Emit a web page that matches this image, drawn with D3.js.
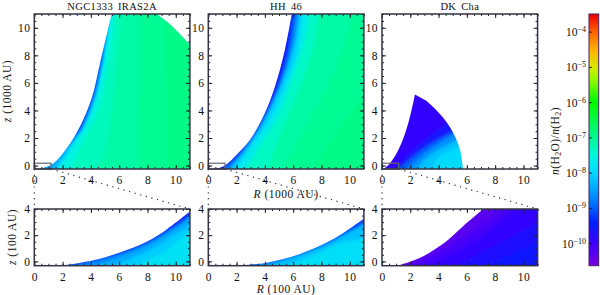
<!DOCTYPE html>
<html>
<head>
<meta charset="utf-8">
<script src="https://cdn.jsdelivr.net/npm/d3@7"></script>
<style>
  html, body { margin: 0; padding: 0; background: #fff; }
  svg { display: block; }
  text { font-family: "Liberation Serif", serif; fill: #111; }
  .tick text { font-size: 11.5px; letter-spacing: .4px; }
  .axis path, .axis line { stroke: #222; }
</style>
</head>
<body>
<div id="chart"></div>
<script>
// Colour bar: log10 abundance -> colour
const barDomain = [-10.64, -3.5];
const barLevels = [-10.64, -10, -9.4, -9, -8.5, -8, -7.5, -7, -6, -5.3, -5, -4.5, -4, -3.5];
const barColors = ["#7a00e0", "#3a00ff", "#0020ff", "#0060ff", "#00a0ff", "#00d8ff", "#00f8dc", "#00fa8c", "#00f800", "#a0f800", "#d8e800", "#ffb000", "#ff6000", "#e80000"];
const barTicks = [-10, -9, -8, -7, -6, -5, -4];

const titles = ["NGC1333 IRAS2A", "HH 46", "DK Cha"];
const xTicks = [0, 2, 4, 6, 8, 10];
const zTicksTop = [0, 2, 4, 6, 8, 10];
const zTicksBottom = [0, 2, 4];

// Boundaries of the model grid, [R, z]
const cavityTopA = [[0.4, -0.25], [1.35, 0.17], [2.29, 1.26], [3.23, 2.84], [4.06, 4.9], [4.65, 7.45], [5.47, 11]];
const edgeTopA = [[8.66, 11], [9.5, 10.35], [10.3, 9.55], [11, 8.78]];
const cornerTopA = [[11, -0.25]];
const cavityTopB = [[0.5, -0.25], [1.18, 0], [2, 0.78], [2.95, 1.87], [4, 3.81], [4.72, 5.75], [5.42, 8.42], [5.9, 11]];
const edgeTopB = [[11, 11], [11, -0.25]];
const cavityTopC = [[0.1, -0.25], [0.57, 0.17], [1.27, 1.38], [1.86, 3.08], [2.33, 5.15]];
const edgeTopC = [[3.1, 4.72], [3.75, 4.12], [4.45, 3.3], [5.04, 2.36], [5.5, 1.2], [5.7, 0], [5.72, -0.25]];

const cavityLowA = [[2, -0.33], [4.17, 0.08], [6.05, 0.68], [7.94, 1.5], [9.36, 2.44], [11, 3.8]];
const cavityLowB = [[2, -0.33], [4.13, -0.1], [6.48, 0.56], [8.84, 1.7], [9.8, 2.35], [11, 3.25]];
const cavityLowC = [[1.15, -0.33], [2.69, 0.27], [4.34, 1.36], [5.75, 2.71], [7.17, 4]];
const edgeLow = [[11, 4], [11, -0.33]];
const edgeLowOpen = [[11, -0.33]];

// Iso-abundance lines: outermost value first, each line [R, z] going up
const baseTopA = -6.95;
const isoTopA = [
  { level: -7.05, line: [[9.4, -0.4], [9.4, 5], [9.1, 12]] },
  { level: -7.15, line: [[7.3, -0.4], [7.4, 5], [7.4, 12]] },
  { level: -7.3, line: [[4.3, -0.4], [5, 1], [5.6, 5], [6.2, 12]] },
  { level: -7.55, line: [[2.6, -0.4], [3.1, 1], [4.5, 4], [5.3, 8], [5.8, 12]] },
  { level: -7.95, line: [[1.6, -0.4], [2.4, 0.9], [3.9, 3.5], [4.7, 6.5], [5.55, 12]] },
  { level: -8.4, line: [[1.3, -0.4], [2.3, 1], [3.55, 3.2], [4.3, 5], [4.75, 7], [5.5, 12]] },
  { level: -9.1, line: [[0.5, -0.4], [1.9, 1], [3.3, 2.5], [3.5, 2.9], [4.2, 4.8], [4.5, 6], [4.9, 8], [5.4, 12]] }
];
const baseTopB = -6.95;
const isoTopB = [
  { level: -7.05, line: [[7.2, -0.4], [10.7, 4.8], [13, 8.5], [13, 12]] },
  { level: -7.15, line: [[5.2, -0.4], [7, 3], [9, 7], [10.5, 12]] },
  { level: -7.35, line: [[4.2, -0.4], [5, 2], [6.2, 5], [7.3, 8], [8, 12]] },
  { level: -7.7, line: [[2.6, -0.4], [3.5, 1.2], [4.9, 3.5], [6, 6.5], [6.8, 9], [7.2, 12]] },
  { level: -8.1, line: [[1.9, -0.4], [2.9, 1.2], [4.3, 3.3], [5.4, 5.8], [6.2, 8], [6.7, 12]] },
  { level: -8.7, line: [[1.4, -0.4], [2.5, 1], [3.8, 3], [4.9, 5.3], [5.7, 7.5], [6.2, 9.5], [6.45, 12]] },
  { level: -9.2, line: [[1, -0.4], [2.3, 0.9], [3.5, 2.7], [4.6, 4.8], [5.45, 7.2], [6, 10], [6.2, 12]] },
  { level: -9.6, line: [[0.8, -0.4], [2.15, 0.8], [3.3, 2.3], [4.4, 4.5], [5.2, 6.9], [5.7, 9], [5.95, 12]] }
];
const baseTopC = -7.95;
const isoTopC = [
  { level: -8.2, line: [[3.5, -0.4], [4, 0.6], [5.8, 1.5], [7, 2]] },
  { level: -8.6, line: [[2.3, -0.4], [3.3, 0.7], [5.4, 1.9], [7, 2.6]] },
  { level: -9.0, line: [[1.6, -0.4], [3, 0.9], [5.3, 2.4], [7, 3.2]] },
  { level: -9.6, line: [[1, -0.4], [3, 1.3], [5.2, 2.6], [7, 3.6]] },
  { level: -9.9, line: [[0.7, -0.4], [2.6, 1.5], [4.5, 3], [7, 5.5]] }
];
const baseLowA = -7.85;
const isoLowA = [
  { level: -8.1, line: [[7, -0.4], [9, 0.6], [10.2, 1.6], [11.5, 3], [11.5, 4.5]] },
  { level: -8.4, line: [[5.5, -0.4], [8, 0.8], [9.7, 1.9], [11.3, 3.2], [11.5, 4.5]] },
  { level: -8.7, line: [[4, -0.4], [6.4, 0.5], [8.6, 1.6], [10.4, 3], [11.5, 4.5]] },
  { level: -9.1, line: [[2.6, -0.4], [5, 0.25], [7.2, 1], [9.2, 2.1], [11, 3.45], [11.5, 4.5]] },
  { level: -9.6, line: [[2, -0.4], [4.3, 0.12], [6.2, 0.72], [8.1, 1.6], [9.5, 2.5], [11, 3.68], [11.4, 4.5]] }
];
const baseLowB = -7.9;
const isoLowB = [
  { level: -8.2, line: [[5.5, -0.4], [7.5, 0.5], [9.3, 1.4], [11, 1.9], [12, 4.5]] },
  { level: -8.6, line: [[4, -0.4], [6.3, 0.4], [8.5, 1.3], [10, 2.2], [11.2, 3], [11.5, 4.5]] },
  { level: -9, line: [[2.8, -0.4], [5, 0.1], [7.2, 0.85], [9.3, 1.95], [11, 3], [11.5, 4.5]] },
  { level: -9.5, line: [[2, -0.4], [4.2, -0.05], [6.5, 0.6], [8.85, 1.75], [9.85, 2.38], [11, 3.17], [11.5, 4.5]] }
];
const baseLowC = -9.55;
const isoLowC = [
  { level: -9.7, line: [[7, -0.4], [11.5, 2.2], [11.5, 4.5]] },
  { level: -9.9, line: [[5, -0.4], [11.5, 3.6], [11.5, 4.5]] },
  { level: -10.1, line: [[3.2, -0.4], [6.5, 1.5], [10, 4.5]] },
  { level: -10.3, line: [[2, -0.4], [4.5, 1], [7.5, 3.1], [9, 4.5]] }
];

const insetR = [0, 1.18];
const insetZ = [-0.25, 0.17];

const panelsTop = [
  { base: baseTopA, iso: isoTopA, cavity: cavityTopA, edge: edgeTopA, corner: cornerTopA },
  { base: baseTopB, iso: isoTopB, cavity: cavityTopB, edge: edgeTopB, corner: [] },
  { base: baseTopC, iso: isoTopC, cavity: cavityTopC, edge: edgeTopC, corner: [] }
];
const panelsLow = [
  { base: baseLowA, iso: isoLowA, cavity: cavityLowA, edge: edgeLowOpen, corner: [] },
  { base: baseLowB, iso: isoLowB, cavity: cavityLowB, edge: edgeLowOpen, corner: [] },
  { base: baseLowC, iso: isoLowC, cavity: cavityLowC, edge: edgeLow, corner: [] }
];

const svg = d3.select("#chart").append("svg").attr("width", 600).attr("height", 295);
const defs = svg.append("defs");
defs.append("filter").attr("id", "soft").attr("filterUnits", "userSpaceOnUse")
  .attr("x", 0).attr("y", 0).attr("width", 600).attr("height", 295)
  .append("feGaussianBlur").attr("stdDeviation", 1.6);

const color = d3.scaleLinear().domain(barLevels).range(barColors);

const left = [34.3, 208.3, 382];
const plotW = 155.6;
const xScale = d3.scaleLinear().domain([0, 11]);
const rowTop = { y0: 169, y1: 14, domain: [-0.25, 11], ticks: zTicksTop };
const rowLow = { y0: 265.7, y1: 209, domain: [-0.33, 4], ticks: zTicksBottom };

function drawField(g, p, x, y, id) {
  const line = d3.line().x(d => x(d[0])).y(d => y(d[1])).curve(d3.curveCatmullRom);
  const straight = d3.line().x(d => x(d[0])).y(d => y(d[1]));
  let clipD = line(p.cavity) + "L" + line(p.edge).slice(1);
  if (p.corner.length) clipD += "L" + straight(p.corner).slice(1);
  g.append("clipPath").attr("id", id).append("path").attr("d", clipD + "Z");

  const field = g.append("g").attr("clip-path", `url(#${id})`)
    .append("g").attr("filter", "url(#soft)");
  field.append("rect")
    .attr("x", x.range()[0] - 20).attr("y", y.range()[1] - 20)
    .attr("width", plotW + 40).attr("height", y.range()[0] - y.range()[1] + 40)
    .attr("fill", color(p.base));

  const area = d3.area()
    .x0(x(-2)).x1(d => x(d[0])).y(d => y(d[1]))
    .curve(d3.curveCatmullRom);
  field.selectAll("path").data(p.iso).enter().append("path")
    .attr("d", d => area(d.line))
    .attr("fill", d => color(d.level));
}

function drawAxes(g, x, y, row) {
  const h = row.y0 - row.y1;
  const minorX = d3.range(0, 11.01, 0.5);
  const minorZ = d3.range(0, row.domain[1] + 0.01, 0.5);
  const place = (ax, tx, ty) => g.append("g").attr("class", "axis")
    .attr("transform", `translate(${tx},${ty})`).call(ax)
    .call(a => a.select(".domain").remove());

  place(d3.axisBottom(x).tickValues(xTicks).tickSize(-4).tickPadding(7).tickFormat(d3.format("d")), 0, row.y0);
  place(d3.axisBottom(x).tickValues(minorX).tickSize(-2).tickFormat(""), 0, row.y0);
  place(d3.axisTop(x).tickValues(xTicks).tickSize(-4).tickFormat(""), 0, row.y1);
  place(d3.axisTop(x).tickValues(minorX).tickSize(-2).tickFormat(""), 0, row.y1);
  place(d3.axisLeft(y).tickValues(row.ticks).tickSize(-4).tickPadding(4).tickFormat(d3.format("d")), x.range()[0], 0);
  place(d3.axisLeft(y).tickValues(minorZ).tickSize(-2).tickFormat(""), x.range()[0], 0);
  place(d3.axisRight(y).tickValues(row.ticks).tickSize(-4).tickFormat(""), x.range()[1], 0);
  place(d3.axisRight(y).tickValues(minorZ).tickSize(-2).tickFormat(""), x.range()[1], 0);

  g.append("rect").attr("x", x.range()[0]).attr("y", row.y1)
    .attr("width", plotW).attr("height", h)
    .attr("fill", "none").attr("stroke", "#333344").attr("stroke-width", 1.5);
}

left.forEach((x0, i) => {
  const x = xScale.copy().range([x0, x0 + plotW]);
  const yTop = d3.scaleLinear().domain(rowTop.domain).range([rowTop.y0, rowTop.y1]);
  const yLow = d3.scaleLinear().domain(rowLow.domain).range([rowLow.y0, rowLow.y1]);
  const g = svg.append("g");

  drawField(g, panelsTop[i], x, yTop, "clipTop" + i);
  drawField(g, panelsLow[i], x, yLow, "clipLow" + i);

  // inset box and the dotted lines down to the zoomed panel
  g.append("rect")
    .attr("x", x(insetR[0])).attr("y", yTop(insetZ[1]))
    .attr("width", x(insetR[1]) - x(insetR[0])).attr("height", yTop(insetZ[0]) - yTop(insetZ[1]))
    .attr("fill", "none").attr("stroke", "#666670").attr("stroke-width", 1.2);
  const dots = [
    [x(insetR[0]), rowTop.y0, x(0), rowLow.y1],
    [x(insetR[1]), rowTop.y0, x(11), rowLow.y1]
  ];
  g.selectAll("line.dots").data(dots).enter().append("line")
    .attr("class", "dots")
    .attr("x1", d => d[0]).attr("y1", d => d[1]).attr("x2", d => d[2]).attr("y2", d => d[3])
    .attr("stroke", "#222").attr("stroke-width", 1.1).attr("stroke-dasharray", "1.2 4.6");

  drawAxes(g, x, yTop, rowTop);
  drawAxes(g, x, yLow, rowLow);

  g.append("text").attr("x", x0 + plotW / 2).attr("y", 10)
    .attr("text-anchor", "middle").style("font-size", "10.5px").style("word-spacing", "2px")
    .style("letter-spacing", ".35px")
    .text(titles[i]);
});

function axisLabel(x, y, rotate, italic, rest) {
  const t = svg.append("text")
    .attr("transform", `translate(${x},${y})` + (rotate ? " rotate(-90)" : ""))
    .attr("text-anchor", "middle").style("font-size", "11.5px").style("letter-spacing", ".5px");
  t.append("tspan").style("font-style", "italic").text(italic);
  t.append("tspan").text(rest);
}
axisLabel(11, 91, true, "z", " (1000 AU)");
axisLabel(16, 237, true, "z", " (100 AU)");
axisLabel(286, 198, false, "R", " (1000 AU)");
axisLabel(286, 293, false, "R", " (100 AU)");

// Colour bar
const barY = d3.scaleLinear().domain(barDomain).range([265.7, 14]);
const barX = [589, 598.7];
const grad = defs.append("linearGradient").attr("id", "barGrad")
  .attr("x1", 0).attr("y1", 1).attr("x2", 0).attr("y2", 0);
grad.selectAll("stop").data(barLevels).enter().append("stop")
  .attr("offset", d => (d - barDomain[0]) / (barDomain[1] - barDomain[0]))
  .attr("stop-color", d => color(d));
svg.append("rect").attr("x", barX[0]).attr("y", 14)
  .attr("width", barX[1] - barX[0]).attr("height", 251.7)
  .attr("fill", "url(#barGrad)").attr("stroke", "#402060").attr("stroke-width", 1);
svg.append("g").attr("class", "axis").attr("transform", `translate(${barX[0]},0)`)
  .call(d3.axisLeft(barY).tickValues(barTicks).tickSize(-3).tickFormat(""))
  .call(a => a.select(".domain").remove());

const barLabels = svg.selectAll("text.barlab").data(barTicks).enter().append("text")
  .attr("class", "barlab")
  .attr("x", 586).attr("y", d => barY(d) + 4.5)
  .attr("text-anchor", "end").style("font-size", "11.5px");
barLabels.append("tspan").text("10");
barLabels.append("tspan").attr("dy", -4).style("font-size", "8px")
  .text(d => "\u2212" + Math.abs(d));

const ratio = svg.append("text").attr("transform", "translate(559,141) rotate(-90)")
  .attr("text-anchor", "middle").style("font-size", "11.5px").style("letter-spacing", ".4px");
ratio.append("tspan").style("font-style", "italic").text("n");
ratio.append("tspan").text("(H");
ratio.append("tspan").attr("dy", 2).style("font-size", "8px").text("2");
ratio.append("tspan").attr("dy", -2).text("O)/");
ratio.append("tspan").style("font-style", "italic").text("n");
ratio.append("tspan").text("(H");
ratio.append("tspan").attr("dy", 2).style("font-size", "8px").text("2");
ratio.append("tspan").attr("dy", -2).text(")");
</script>
</body>
</html>
